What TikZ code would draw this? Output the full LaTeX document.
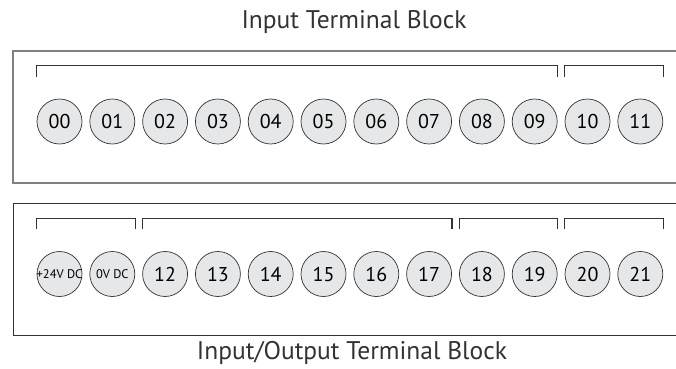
\documentclass[tikz,border=0pt]{standalone}
\usepackage{fontspec}
\setmainfont{PT Sans}
\definecolor{termfill}{HTML}{E6E7E8}
\definecolor{framegray}{HTML}{808080}
\definecolor{linedark}{HTML}{333333}
\begin{document}
\begin{tikzpicture}[x=1pt, y=1pt]
    \tikzset{
        term/.style = {
            draw = linedark,
            line width = 0.7pt,
            circle,
            inner sep = 0pt,
            minimum size = 45pt,
            fill = termfill,
            font = \fontsize{20}{20}\selectfont
        },
        powerterm/.style = {
            term,
            font = \fontsize{12.5}{12.5}\selectfont
        },
        group/.style = {
            draw = linedark,
            line width = 1.1pt
        },
        title/.style = {
            font = \fontsize{25.5}{25.5}\selectfont,
            text = linedark
        }
    }
    \clip (0,0) rectangle (676,368);

    \def\dx{52.8}
    \def\group#1#2{
        \draw[group] ([yshift=22pt]#1.west |- #1.north) -- ++(0,11)
            -| ([yshift=22pt]#2.east |- #2.north);
    }

    % input block
    \node[title] (intitle) at (354,346) {Input Terminal Block};
    \draw[framegray, line width=1.5pt] (13,317) rectangle (700,185);
    \foreach \lab [count=\i from 0] in {00,01,02,03,04,05,06,07,08,09,10,11}{
        \node[term] (t\lab) at (59.5 + \i * \dx, 246.5) {\lab};
    }
    \group{t00}{t09}
    \group{t10}{t11}

    % input/output block
    \node[title] (iotitle) at (352,15) {Input/Output Terminal Block};
    \draw[linedark, line width=1pt] (13,165) rectangle (700,33);
    \node[powerterm] (bp) at (59.5, 94) {\makebox[0pt]{+24V DC}};
    \node[powerterm] (bm) at (59.5 + \dx, 94) {\makebox[0pt]{0V DC}};
    \foreach \lab [count=\i from 2] in {12,...,21}{
        \node[term] (b\lab) at (59.5 + \i * \dx, 94) {\lab};
    }
    \group{bp}{bm}
    \group{b12}{b17}
    \group{b18}{b19}
    \group{b20}{b21}

\end{tikzpicture}
\end{document}
